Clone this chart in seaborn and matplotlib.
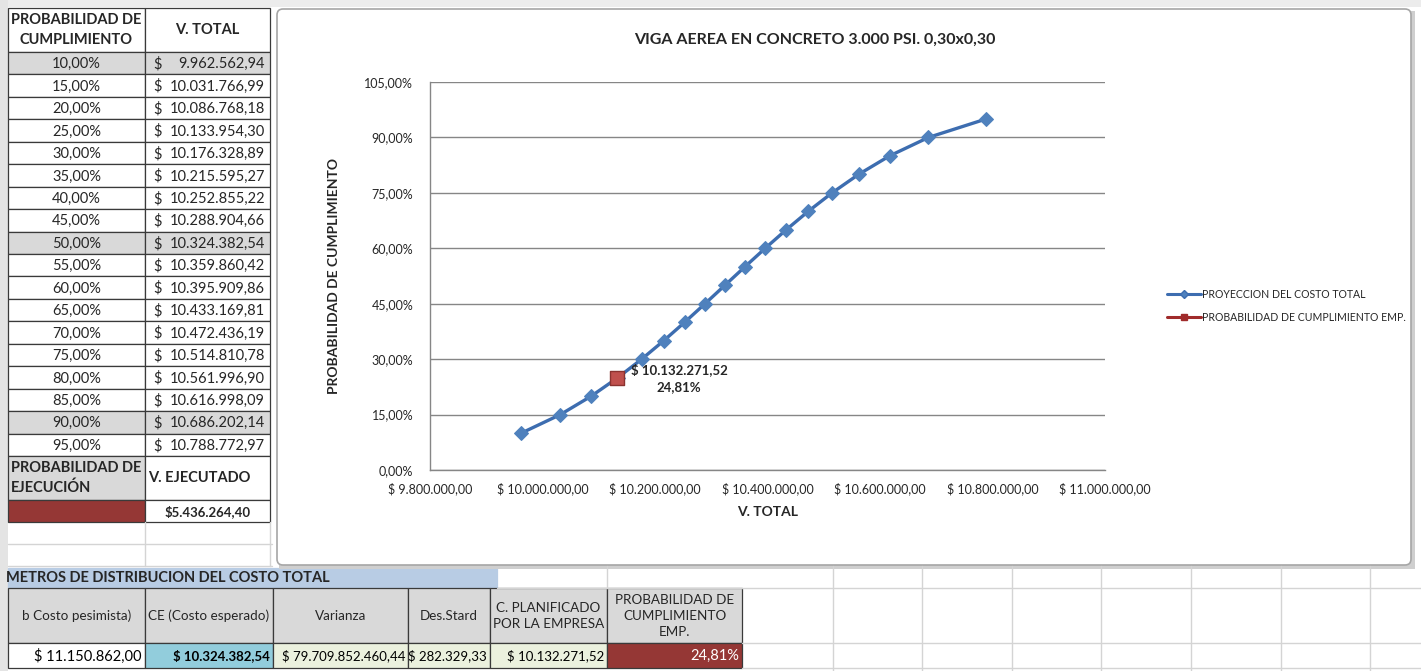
import matplotlib
matplotlib.use("Agg")
import matplotlib.pyplot as plt
import matplotlib.ticker as mticker
from matplotlib.patches import Rectangle, FancyBboxPatch
from matplotlib.lines import Line2D
import seaborn as sns
import pandas as pd

# datos de la hoja
probabilidad = [10, 15, 20, 25, 30, 35, 40, 45, 50, 55, 60, 65, 70, 75, 80, 85, 90, 95]
v_total = [9962562.94, 10031766.99, 10086768.18, 10133954.30, 10176328.89, 10215595.27,
           10252855.22, 10288904.66, 10324382.54, 10359860.42, 10395909.86, 10433169.81,
           10472436.19, 10514810.78, 10561996.90, 10616998.09, 10686202.14, 10788772.97]
filas_grises = [10, 50, 90]
v_ejecutado = 5436264.40

costo_pesimista = 11150862.00
costo_esperado = 10324382.54
varianza = 79709852460.44
des_stard = 282329.33
c_planificado = 10132271.52
prob_emp = 24.81

x_ticks = [9800000, 10000000, 10200000, 10400000, 10600000, 10800000, 11000000]
y_ticks = [0, 15, 30, 45, 60, 75, 90, 105]


def money(v):
    s = f"{v:,.2f}"
    return s.replace(",", "X").replace(".", ",").replace("X", ".")


def pct(v):
    return f"{v:.2f}".replace(".", ",") + "%"


sns.set_style("white")
plt.rcParams['font.family'] = ['Lato', 'DejaVu Sans']

W, H = 1421, 671
fig = plt.figure(figsize=(W / 100, H / 100), dpi=100)

bg = fig.add_axes([0, 0, 1, 1])
bg.set_xlim(0, W)
bg.set_ylim(H, 0)
bg.axis('off')

FS = 10.5
grid_c = '#d4d4d4'
border_c = '#3a3a3a'


def cell(x0, y0, x1, y1, fc='white', ec=border_c, lw=0.9):
    bg.add_patch(Rectangle((x0, y0), x1 - x0, y1 - y0, facecolor=fc, edgecolor=ec, lw=lw))


# marco gris de la captura
bg.add_patch(Rectangle((0, 0), W, 7, facecolor='#ececec', edgecolor='none'))
bg.add_patch(Rectangle((0, 0), 8, H, facecolor='#e4e4e4', edgecolor='none'))

# cuadricula vacia de excel
for x in [833, 922, 1012, 1101, 1191, 1281, 1370]:
    bg.plot([x, x], [566, H], color=grid_c, lw=1)
for y in [588, 643, 668]:
    bg.plot([742, W], [y, y], color=grid_c, lw=1)
bg.plot([497, 742], [588, 588], color=grid_c, lw=1)
bg.plot([607, 607], [566, 588], color=grid_c, lw=1)
for y in [544, 566]:
    bg.plot([8, 272], [y, y], color=grid_c, lw=1)
bg.plot([145, 145], [522, 566], color=grid_c, lw=1)
bg.plot([270, 270], [522, 566], color=grid_c, lw=1)

# tabla izquierda
c0, c1, c2 = 8, 145, 270
cell(c0, 8, c1, 52)
cell(c1, 8, c2, 52)
bg.text((c0 + c1) / 2, 30, "PROBABILIDAD DE\nCUMPLIMIENTO", ha='center', va='center',
        fontsize=FS, fontweight='bold', linespacing=1.5)
bg.text((c1 + c2) / 2, 30, "V. TOTAL", ha='center', va='center', fontsize=FS, fontweight='bold')

rh = (456 - 52) / len(probabilidad)
for i, (p, v) in enumerate(zip(probabilidad, v_total)):
    y0 = 52 + i * rh
    fc = '#d9d9d9' if p in filas_grises else 'white'
    cell(c0, y0, c1, y0 + rh, fc=fc)
    cell(c1, y0, c2, y0 + rh, fc=fc)
    bg.text((c0 + c1) / 2, y0 + rh / 2 + 1, pct(p), ha='center', va='center', fontsize=FS)
    bg.text(c1 + 8, y0 + rh / 2 + 1, "$", ha='left', va='center', fontsize=FS)
    bg.text(c2 - 5, y0 + rh / 2 + 1, money(v), ha='right', va='center', fontsize=FS)

cell(c0, 456, c1, 500, fc='#d9d9d9')
cell(c1, 456, c2, 500)
bg.text(c0 + 3, 478, "PROBABILIDAD DE\nEJECUCIÓN", ha='left', va='center',
        fontsize=FS, fontweight='bold', linespacing=1.5)
bg.text(c1 + 3, 478, "V. EJECUTADO", ha='left', va='center', fontsize=FS, fontweight='bold')
cell(c0, 500, c1, 522, fc='#953735')
cell(c1, 500, c2, 522)
bg.text((c1 + c2) / 2, 512, "$" + money(v_ejecutado), ha='center', va='center',
        fontsize=FS - 1, fontweight='bold')

# tabla inferior
cell(c0, 568, 497, 588, fc='#b8cce4', ec='#b8cce4')
bg.text(6, 578, "METROS DE DISTRIBUCION DEL COSTO TOTAL", ha='left', va='center',
        fontsize=FS, fontweight='bold')
cols = [8, 145, 273, 408, 490, 607, 742]
heads = ["b Costo pesimista)", "CE (Costo esperado)", "Varianza", "Des.Stard",
         "C. PLANIFICADO\nPOR LA EMPRESA", "PROBABILIDAD DE\nCUMPLIMIENTO\nEMP."]
vals = ["$ " + money(costo_pesimista), "$ " + money(costo_esperado), "$ " + money(varianza),
        "$ " + money(des_stard), "$ " + money(c_planificado), pct(prob_emp)]
fills = ['white', '#92cddc', '#ebf1de', '#ebf1de', '#ebf1de', '#953735']
for j in range(6):
    xa, xb = cols[j], cols[j + 1]
    cell(xa, 588, xb, 643, fc='#d9d9d9')
    bg.text((xa + xb) / 2, 616, heads[j], ha='center', va='center', fontsize=FS - 0.8,
            linespacing=1.35)
    cell(xa, 643, xb, 668, fc=fills[j])
    bg.text(xb - 3, 656, vals[j], ha='right', va='center',
            fontsize=FS if j in (0, 5) else 9.5,
            fontweight='bold' if j == 1 else 'normal',
            color='white' if j == 5 else 'black')

# marco del grafico
bg.add_patch(Rectangle((279, 11), 1136, 558, facecolor='#cfcfcf', edgecolor='none'))
bg.add_patch(FancyBboxPatch((277, 9), 1134, 556, boxstyle="round,pad=0,rounding_size=6",
                            facecolor='white', edgecolor='#a6a6a6', lw=1.2))

# grafico
L, R, T, B = 430, 1105, 82, 470
ax = fig.add_axes([L / W, 1 - B / H, (R - L) / W, (B - T) / H])
df = pd.DataFrame({'v_total': v_total, 'prob': probabilidad})
sns.lineplot(data=df, x='v_total', y='prob', ax=ax, color='#3d6db0', linewidth=2.4,
             marker='D', markersize=7, markerfacecolor='#4f81bd', markeredgecolor='#4f81bd',
             zorder=3)
sns.scatterplot(x=[c_planificado], y=[prob_emp], ax=ax, marker='s', s=110,
                color='#c0504d', edgecolor='#8b3330', linewidth=1, zorder=4)
ax.annotate("$ " + money(c_planificado) + "\n" + pct(prob_emp), (c_planificado, prob_emp),
            xytext=(14, 0), textcoords='offset pixels', ha='left', va='center',
            fontsize=9.5, fontweight='bold', multialignment='center', linespacing=1.5)

ax.set_xlim(x_ticks[0], x_ticks[-1])
ax.set_ylim(y_ticks[0], y_ticks[-1])
ax.set_xticks(x_ticks)
ax.set_yticks(y_ticks)
ax.xaxis.set_major_formatter(mticker.FuncFormatter(lambda v, p: "$ " + money(v)))
ax.yaxis.set_major_formatter(mticker.FuncFormatter(lambda v, p: pct(v)))
ax.tick_params(axis='both', length=0, labelsize=9)
ax.tick_params(axis='x', pad=9)
ax.tick_params(axis='y', pad=12)
ax.grid(axis='y', color='#868686', lw=1)
ax.grid(axis='x', visible=False)
for s in ['top', 'right']:
    ax.spines[s].set_visible(False)
for s in ['left', 'bottom']:
    ax.spines[s].set_color('#868686')
    ax.spines[s].set_linewidth(1)
ax.set_xlabel("V. TOTAL", fontsize=10, fontweight='bold')
ax.set_ylabel("PROBABILIDAD DE CUMPLIMIENTO", fontsize=10, fontweight='bold')
ax.xaxis.set_label_coords(0.5, -(506 - B) / (B - T))
ax.yaxis.set_label_coords(-(430 - 340) / (R - L), 0.5)
ax.set_title("VIGA AEREA EN CONCRETO 3.000 PSI. 0,30x0,30", fontsize=11.5, fontweight='bold',
             pad=0, x=(815 - L) / (R - L), y=(B - 40) / (B - T), va='center')
if ax.get_legend():
    ax.get_legend().remove()

handles = [Line2D([], [], color='#3d6db0', lw=2.2, marker='D', markersize=4,
                  markerfacecolor='#4f81bd'),
           Line2D([], [], color='#a02b2b', lw=2.2, marker='s', markersize=5,
                  markerfacecolor='#a02b2b')]
fig.legend(handles, ["PROYECCION DEL COSTO TOTAL", "PROBABILIDAD DE CUMPLIMIENTO EMP."],
           loc='upper left', bbox_to_anchor=(1167 / W, 1 - 289 / H), frameon=False,
           fontsize=7.6, handlelength=3.2, handletextpad=0.1, labelspacing=1.15,
           borderpad=0, borderaxespad=0)

fig.savefig("out.png", dpi=100)
